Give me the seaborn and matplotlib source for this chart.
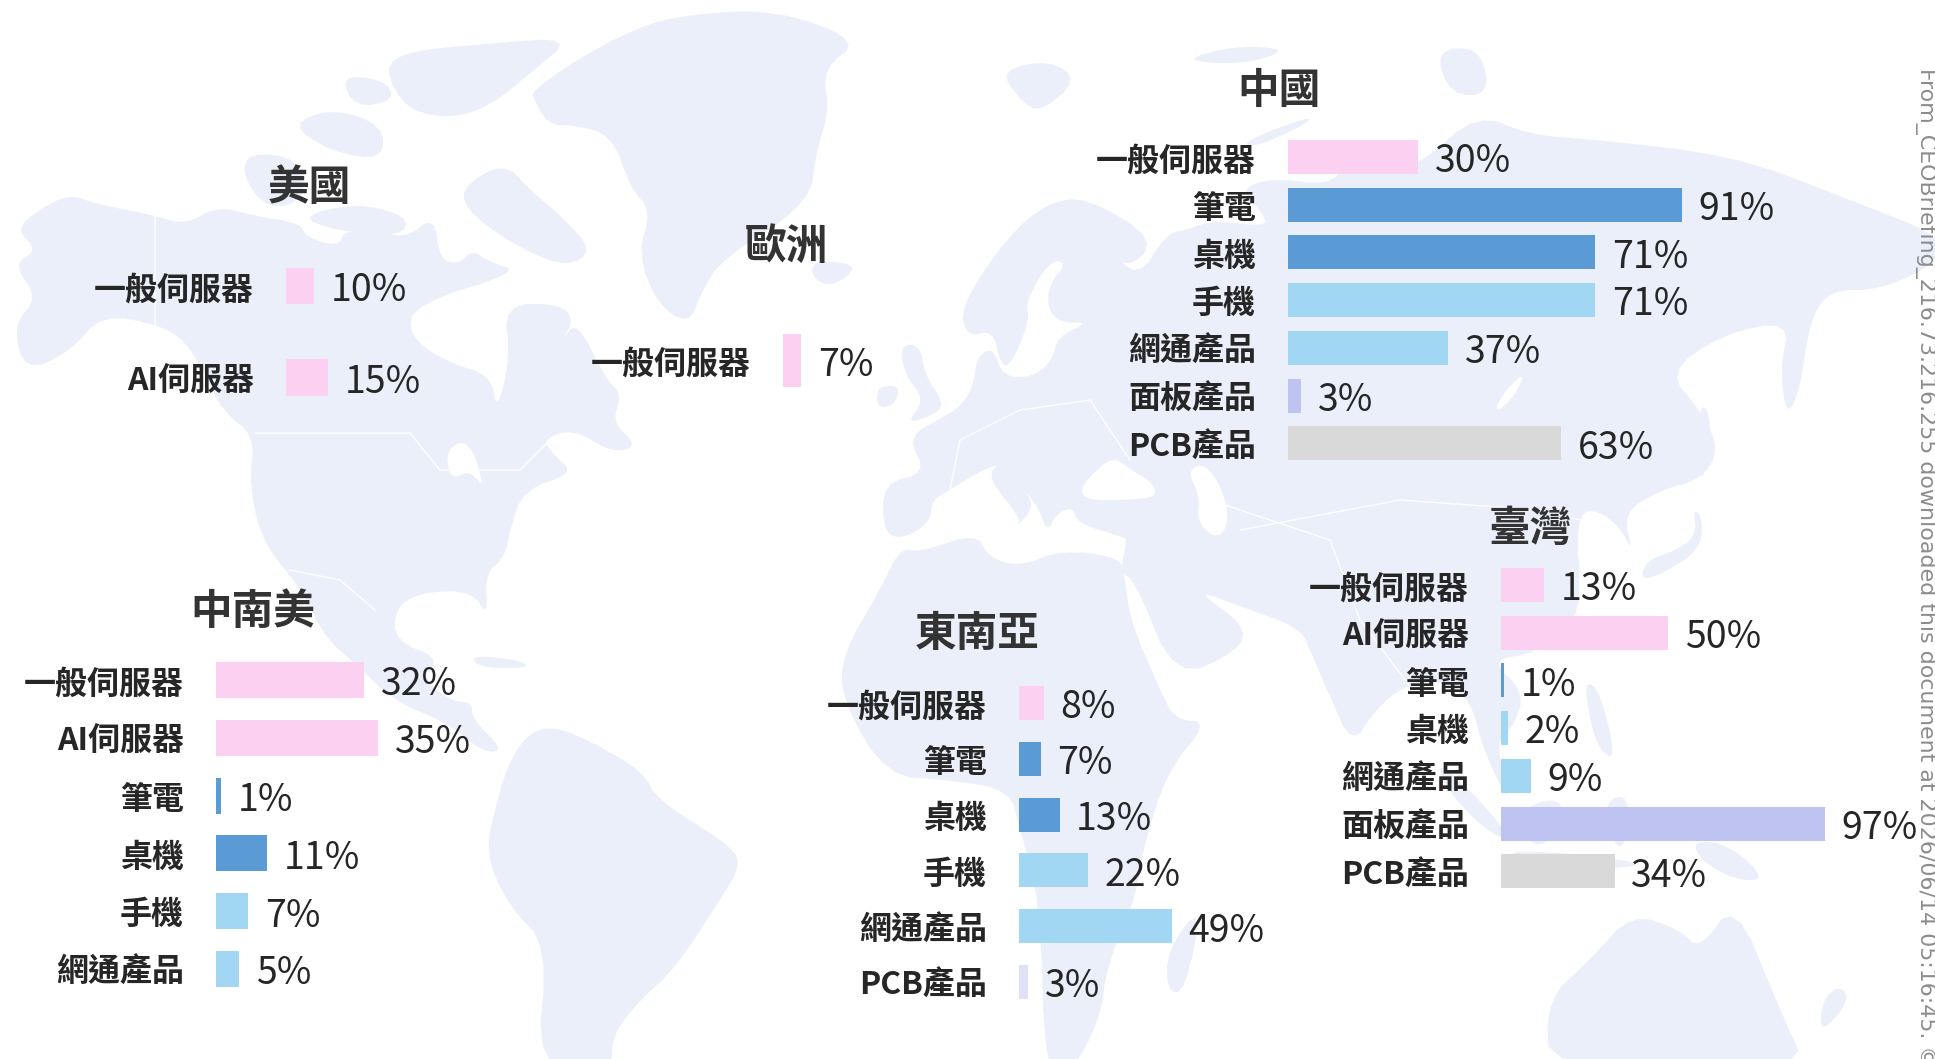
import matplotlib
matplotlib.use('Agg')
import matplotlib.pyplot as plt
from matplotlib.transforms import ScaledTranslation
import seaborn as sns

# 各地區資料
us_cats = ['一般伺服器', 'AI伺服器']
us_vals = [10, 15]
eu_cats = ['一般伺服器']
eu_vals = [7]
cn_cats = ['一般伺服器', '筆電', '桌機', '手機', '網通產品', '面板產品', 'PCB產品']
cn_vals = [30, 91, 71, 71, 37, 3, 63]
tw_cats = ['一般伺服器', 'AI伺服器', '筆電', '桌機', '網通產品', '面板產品', 'PCB產品']
tw_vals = [13, 50, 1, 2, 9, 97, 34]
sea_cats = ['一般伺服器', '筆電', '桌機', '手機', '網通產品', 'PCB產品']
sea_vals = [8, 7, 13, 22, 49, 3]
la_cats = ['一般伺服器', 'AI伺服器', '筆電', '桌機', '手機', '網通產品']
la_vals = [32, 35, 1, 11, 7, 5]

W, H = 1935, 1059
PINK, BLUE, SKY, LAV, GRAY, PALE = '#FBD0F0', '#5B9BD5', '#A2D7F4', '#BFC3F2', '#D9D9D9', '#DFE2F7'
MAP = '#EBEFFA'

sns.set_theme(style='white')
plt.rcParams['font.family'] = ['Noto Sans CJK TC', 'DejaVu Sans']

# 底圖輪廓（像素座標，僅為裝飾）
land = [
    # 北美
    [(16,230),(38,210),(70,194),(96,204),(153,215),(185,225),(217,206),(255,216),(300,223),(306,237),(338,247),(345,230),(383,233),(408,237),(434,216),(440,260),(459,264),(472,250),(490,262),(520,272),(415,304),(408,335),(446,362),(491,375),(497,412),(510,358),(504,304),(561,304),(574,321),(561,341),(577,321),(606,379),(622,395),(612,422),(638,446),(612,453),(574,429),(542,439),(555,456),(574,473),(523,490),(510,530),(505,557),(485,574),(488,617),(472,591),(421,592),(395,608),(395,641),(440,658),(421,678),(453,702),(472,702),(472,719),(504,750),(484,753),(446,722),(395,702),(357,665),(325,638),(300,587),(262,542),(249,483),(255,436),(223,412),(204,372),(185,341),(159,325),(102,314),(70,352),(25,372),(13,325),(38,298),(13,264),(38,250)],
    # 格陵蘭
    [(533,91),(574,61),(638,27),(689,14),(778,10),(861,41),(823,68),(829,112),(816,152),(810,203),(721,260),(702,291),(689,325),(657,304),(638,254),(651,210),(631,189),(612,135),(574,125),(548,125),(533,98)],
    # 北極群島
    [(459,189),(504,162),(529,189),(561,216),(593,250),(568,267),(523,250),(472,216)],
    [(300,216),(357,203),(408,216),(402,237),(332,230)],
    [(408,51),(485,44),(574,37),(529,74),(497,101),(459,118),(408,112),(383,68)],
    [(242,176),(249,152),(300,159),(306,199),(268,210)],
    [(290,125),(332,108),(383,125),(383,160),(332,152)],
    [(340,75),(385,80),(395,100),(355,108)],
    [(810,274),(816,260),(855,264),(848,277),(827,287)],
    # 南美
    [(529,733),(555,726),(600,746),(644,773),(657,800),(733,847),(740,867),(721,898),(676,968),(638,1002),(612,1036),(612,1070),(536,1070),(548,945),(510,908),(485,854),(497,800),(510,760)],
    # 歐亞
    [(883,483),(883,530),(900,540),(930,523),(932,500),(950,490),(977,473),(1000,463),(987,477),(1020,517),(1017,527),(1037,503),(1003,470),(1037,503),(1047,533),(1057,513),(1073,507),(1077,523),(1123,537),(1127,540),(1120,573),
     (1135,580),(1175,680),(1240,650),(1245,625),(1194,589),(1245,608),(1300,628),(1310,650),(1328,692),(1352,746),(1375,710),(1405,685),(1440,680),(1471,700),(1483,750),(1513,810),(1495,742),(1513,728),(1525,692),(1489,660),(1537,653),(1578,621),(1580,567),(1577,550),(1580,513),(1597,510),(1620,527),(1633,553),(1623,513),(1660,490),(1700,480),(1720,450),(1700,410),(1668,373),(1720,335),(1790,320),(1780,370),(1787,417),(1800,390),(1810,320),(1830,290),(1880,290),(1940,262),(1940,235),(1850,200),(1760,165),(1690,150),(1596,140),(1530,135),(1477,113),(1420,165),(1380,170),(1345,165),(1330,185),(1270,178),(1240,190),(1263,213),(1267,227),(1213,220),(1187,230),(1167,233),(1137,280),(1107,243),(1127,270),(1157,240),(1087,197),(1047,203),(1007,237),(960,307),(967,337),(993,330),(1000,363),(1010,367),(1030,320),(1025,303),(1050,260),(1067,263),(1050,283),(1047,307),(1060,323),(1090,322),(1057,337),(1053,360),(1033,377),(1003,377),(993,347),(977,357),(973,387),(960,407),(943,417),(907,437),(927,473)],
    # 非洲
    [(900,548),(920,552),(977,533),(988,557),(1020,567),(1060,550),(1120,557),(1125,578),(1130,620),(1160,690),(1175,720),(1209,722),(1167,771),(1143,849),(1135,900),(1107,965),(1100,1020),(1070,1075),(1045,1075),(1040,900),(1020,830),(1010,790),(950,780),(886,776),(842,700),(842,655),(880,590)],
    # 澳洲
    [(1546,1000),(1590,960),(1632,913),(1680,930),(1700,950),(1735,900),(1780,1010),(1810,1075),(1550,1075)],
    # 島嶼
    [(1167,950),(1203,903),(1185,992),(1167,992)],
    [(1640,580),(1647,560),(1670,553),(1697,537),(1693,507),(1703,520),(1700,550),(1660,575)],
    [(1700,400),(1712,420),(1705,480),(1696,470)],
    [(1435,760),(1470,790),(1510,835),(1495,838),(1450,795)],
    [(1510,850),(1590,855),(1650,865),(1590,870),(1515,860)],
    [(1520,810),(1555,797),(1567,815),(1545,847),(1525,840)],
    [(1605,800),(1630,795),(1625,850),(1610,840)],
    [(1693,840),(1730,845),(1767,880),(1735,880),(1700,860)],
    [(1583,680),(1600,690),(1617,763),(1595,745)],
    [(900,345),(920,345),(925,375),(942,400),(940,412),(905,425),(925,400),(905,375)],
    [(877,387),(900,385),(895,405),(877,408)],
    [(1240,143),(1307,117),(1310,122),(1257,147)],
    [(1000,70),(1050,60),(1078,80),(1040,113),(1020,100)],
    [(1180,60),(1240,45),(1290,50),(1240,65)],
    [(1435,50),(1480,47),(1490,95),(1450,95)],
    [(470,655),(520,660),(530,668),(480,668)],
    [(1822,1000),(1840,985),(1850,1000),(1820,1035)],
]
lakes = [
    [(1080,490),(1093,473),(1113,457),(1127,467),(1153,483),(1157,497),(1127,500),(1087,500)],
    [(1187,470),(1207,463),(1227,500),(1227,530),(1213,538),(1197,520),(1200,497)],
    [(1495,407),(1510,385),(1525,373),(1515,395),(1500,410)],
    [(446,448),(470,440),(485,490),(470,470),(450,480)],
]
borders = [
    [(155,215),(155,325),(204,372)],
    [(255,433),(410,433),(440,470),(520,470),(550,440)],
    [(290,570),(340,580),(375,610)],
    [(1210,500),(1330,540),(1360,620),(1420,700)],
    [(1240,530),(1400,500),(1540,510),(1620,530)],
    [(950,490),(960,440),(1020,410),(1090,400),(1130,460)],
]

# 各區版位：左緣、第一根中心 y、間距、條高、每 1% 像素、標題中心
layout = {
    'us': (286, 286, 91.5, 36.5, 2.8, 309, 188),
    'eu': (783, 360.5, 80, 53, 2.57, 786, 247),
    'cn': (1288, 157, 47.7, 34, 4.33, 1279, 91),
    'tw': (1501, 585, 47.7, 34, 3.34, 1530, 529),
    'sea': (1019, 703, 55.8, 34, 3.12, 977, 634),
    'la': (216, 680, 57.8, 36, 4.63, 253, 612),
}


def smooth(poly, rounds=2):
    # 角落切圓，輪廓才不會太尖
    pts = list(poly)
    for _ in range(rounds):
        new = []
        for a, b in zip(pts, pts[1:] + pts[:1]):
            new.append((0.75 * a[0] + 0.25 * b[0], 0.75 * a[1] + 0.25 * b[1]))
            new.append((0.25 * a[0] + 0.75 * b[0], 0.25 * a[1] + 0.75 * b[1]))
        pts = new
    return zip(*pts)


def draw_region(fig, key, title, cats, vals, colors):
    left, y0, pitch, bar_h, px, tx, ty = layout[key]
    n = len(cats)
    ax = fig.add_axes([left / W, 1 - (y0 - pitch / 2 + n * pitch) / H, px * 100 / W, n * pitch / H])
    sns.barplot(x=vals, y=cats, hue=cats, palette=dict(zip(cats, colors)), order=cats, hue_order=cats,
                orient='h', width=bar_h / pitch, saturation=1, dodge=False, legend=False, linewidth=0, ax=ax)
    ax.set_xlim(0, 100)
    ax.set_ylim(n - 0.5, -0.5)
    ax.patch.set_alpha(0)
    sns.despine(ax=ax, left=True, bottom=True)
    ax.set_xticks([])
    ax.set_xlabel('')
    ax.set_ylabel('')
    ax.tick_params(axis='y', length=0, pad=23, labelsize=23, labelcolor='#262626')
    shift = ScaledTranslation(0, -0.5 / 72, fig.dpi_scale_trans)
    for lab in ax.get_yticklabels():
        lab.set_fontweight('bold')
        lab.set_transform(lab.get_transform() + shift)
    for cont in ax.containers:
        for t in ax.bar_label(cont, fmt='%d%%', padding=12, fontsize=27, color='#262626', clip_on=False):
            t.xyann = (t.xyann[0], t.xyann[1] - 3.5)
    fig.text(tx / W, 1 - ty / H, title, ha='center', va='center', fontsize=30, fontweight='bold', color='#333333')


fig = plt.figure(figsize=(W / 100, H / 100), dpi=100, facecolor='white')

bg = fig.add_axes([0, 0, 1, 1])
bg.set_xlim(0, W)
bg.set_ylim(H, 0)
bg.axis('off')
for poly in land:
    xs, ys = smooth(poly)
    bg.fill(xs, ys, color=MAP, lw=0)
for poly in lakes:
    xs, ys = smooth(poly)
    bg.fill(xs, ys, color='white', lw=0)
for line in borders:
    xs, ys = zip(*line)
    bg.plot(xs, ys, color='white', lw=1)

draw_region(fig, 'us', '美國', us_cats, us_vals, [PINK, PINK])
draw_region(fig, 'eu', '歐洲', eu_cats, eu_vals, [PINK])
draw_region(fig, 'cn', '中國', cn_cats, cn_vals, [PINK, BLUE, BLUE, SKY, SKY, LAV, GRAY])
draw_region(fig, 'tw', '臺灣', tw_cats, tw_vals, [PINK, PINK, BLUE, SKY, SKY, LAV, GRAY])
draw_region(fig, 'sea', '東南亞', sea_cats, sea_vals, [PINK, BLUE, BLUE, SKY, SKY, PALE])
draw_region(fig, 'la', '中南美', la_cats, la_vals, [PINK, PINK, BLUE, BLUE, SKY, SKY])

# 右側浮水印
fig.text(1925 / W, 1 - 68 / H, 'From_CEOBriefing_216.73.216.255 downloaded this document at 2026/06/14 05:16:45. ©',
         rotation=270, ha='center', va='top', fontsize=15.9, color='#8C8C8C', family='DejaVu Sans')

fig.savefig('out.png', dpi=100)
